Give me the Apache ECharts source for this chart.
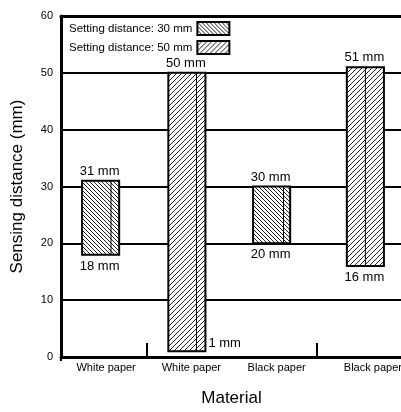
<!DOCTYPE html>
<html>
<head>
<meta charset="utf-8">
<script src="https://cdn.jsdelivr.net/npm/echarts@6/dist/echarts.min.js"></script>
<style>html,body{margin:0;padding:0;background:#fff}#c{width:401px;height:412px}</style>
</head>
<body>
<div id="c"></div>
<script>
// ---- data ----
const categories = ['White paper', 'White paper', 'Black paper', 'Black paper'];
const seriesNames = ['Setting distance: 30 mm', 'Setting distance: 50 mm'];
// [categoryIndex, lower, upper]
const range30 = [[0, 18, 31], [2, 20, 30]];
const range50 = [[1, 1, 50], [3, 16, 51]];
const yTicks = { min: 0, max: 60, interval: 10 };

function makePattern(size, back) {
  const c = document.createElement('canvas');
  c.width = size; c.height = size;
  const g = c.getContext('2d');
  g.fillStyle = '#fff'; g.fillRect(0, 0, size, size);
  g.fillStyle = '#222';
  for (let i = 0; i < size; i++) {
    g.fillRect(back ? i : size - 1 - i, i, 1, 1);
  }
  return c;
}
const pat30 = { image: makePattern(4, true), repeat: 'repeat' };
const pat50 = { image: makePattern(5, false), repeat: 'repeat' };

const barOffset = [-3, -2, -2.5, 6];
const innerFrac = [0.78, 0.76, 0.82, 0.5];
const valFont = '13px "Liberation Sans", Arial, sans-serif';

function makeRender(pattern) {
  return function (params, api) {
    const cat = api.value(0), lo = api.value(1), hi = api.value(2);
    const pLo = api.coord([cat, lo]);
    const pHi = api.coord([cat, hi]);
    const band = api.size([1, 0])[0];
    const w = band * 0.435;
    const cx = pLo[0] + (barOffset[cat] || 0);
    const x = cx - w / 2;
    const children = [
      { type: 'rect', shape: { x: x, y: pHi[1], width: w, height: pLo[1] - pHi[1] },
        style: { fill: pattern, stroke: '#000', lineWidth: 2 } },
      { type: 'line', shape: { x1: x + w * innerFrac[cat], y1: pHi[1], x2: x + w * innerFrac[cat], y2: pLo[1] },
        style: { stroke: '#000', lineWidth: 1 } },
      { type: 'text', style: { text: hi + ' mm', x: cx - 1, y: pHi[1] - 3, align: 'center', verticalAlign: 'bottom', font: valFont, fill: '#000' } }
    ];
    if (lo < 5) {
      children.push({ type: 'text', style: { text: lo + ' mm', x: x + w + 3, y: pLo[1] - 1, align: 'left', verticalAlign: 'bottom', font: valFont, fill: '#000' } });
    } else {
      children.push({ type: 'text', style: { text: lo + ' mm', x: cx - 1, y: pLo[1] + 5, align: 'center', verticalAlign: 'top', font: valFont, fill: '#000' } });
    }
    return { type: 'group', children: children };
  };
}

const chart = echarts.init(document.getElementById('c'), null, { renderer: 'canvas' });
chart.setOption({
  animation: false,
  backgroundColor: '#fff',
  textStyle: { fontFamily: '"Liberation Sans", Arial, sans-serif', color: '#000' },
  grid: { left: 61, right: -1, top: 16, bottom: 55, containLabel: false, outerBoundsMode: 'none' },
  legend: {
    orient: 'vertical', left: 64, top: 16, align: 'right', icon: 'rect',
    itemWidth: 32, itemHeight: 13, itemGap: 4,
    itemStyle: { borderColor: '#000', borderWidth: 2 },
    textStyle: { fontFamily: '"Liberation Sans", Arial, sans-serif', fontSize: 11.5, color: '#000' },
    data: [
      { name: seriesNames[0], icon: 'rect', itemStyle: { color: pat30, borderColor: '#000', borderWidth: 2 } },
      { name: seriesNames[1], icon: 'rect', itemStyle: { color: pat50, borderColor: '#000', borderWidth: 2 } }
    ]
  },
  xAxis: [{
    type: 'category', data: categories, boundaryGap: true,
    name: 'Material', nameLocation: 'middle', nameGap: 33,
    nameTextStyle: { fontSize: 17, color: '#000' },
    axisLine: { lineStyle: { color: '#000', width: 3 } },
    axisTick: { show: true, inside: true, length: 14, lineStyle: { color: '#000', width: 2 },
      interval: function (i) { return i === 1 || i === 3; } },
    axisLabel: {
      interval: 0, fontSize: 11, color: '#000', margin: 5,
      formatter: function (v, i) { return i === 3 ? '{last|' + v + '}' : '{n|' + v + '}'; },
      rich: { n: { fontSize: 11, padding: [0, 0, 0, 5] }, last: { fontSize: 11, padding: [0, 0, 0, 27] } }
    },
    splitLine: { show: false }
  }, {
    type: 'category', data: categories, boundaryGap: true, position: 'bottom',
    axisLine: { show: false },
    axisTick: { show: true, inside: false, length: 4, lineStyle: { color: '#000', width: 2 },
      interval: function (i) { return i === 2; } },
    axisLabel: { show: false },
    splitLine: { show: false }
  }, {
    type: 'category', data: categories, boundaryGap: true, position: 'top',
    axisLine: { show: true, lineStyle: { color: '#000', width: 3 } },
    axisTick: { show: false },
    axisLabel: { show: false },
    splitLine: { show: false }
  }],
  yAxis: {
    type: 'value', min: yTicks.min, max: yTicks.max, interval: yTicks.interval,
    name: 'Sensing distance (mm)', nameLocation: 'middle', nameGap: 35,
    nameTextStyle: { fontSize: 17, color: '#000' },
    axisLine: { show: true, lineStyle: { color: '#000', width: 3 } },
    axisTick: { show: false },
    axisLabel: { fontSize: 11, color: '#000', margin: 8 },
    splitLine: { show: true, lineStyle: { color: '#000', width: 2 } }
  },
  series: [
    { name: seriesNames[0], type: 'custom', renderItem: makeRender(pat30), data: range30,
      itemStyle: { color: pat30 }, encode: { x: 0, y: [1, 2] }, z: 5 },
    { name: seriesNames[1], type: 'custom', renderItem: makeRender(pat50), data: range50,
      itemStyle: { color: pat50 }, encode: { x: 0, y: [1, 2] }, z: 5 }
  ]
});
</script>
</body>
</html>
